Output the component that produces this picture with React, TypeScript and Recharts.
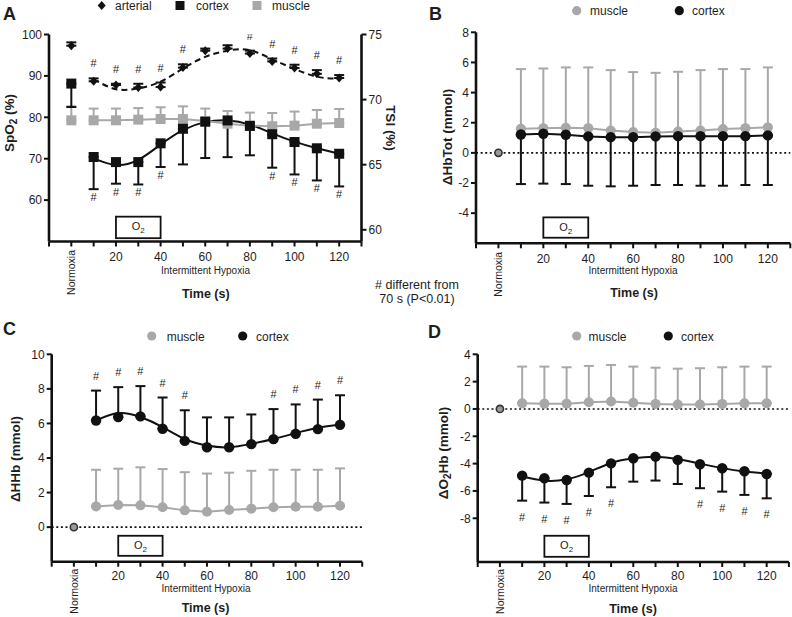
import React from 'react';
import { ComposedChart, Scatter, Line, XAxis, YAxis, ErrorBar, ReferenceArea, ReferenceLine } from 'recharts';

const FONT = "Arial, 'Liberation Sans', Helvetica, sans-serif";
const BLACK = '#111111';
const GRAY = '#a8a8a8';
const TEXT = '#1e1e1e';

// ---------- shared categories / ticks ----------
const TIMES = [10, 20, 30, 40, 50, 60, 70, 80, 90, 100, 110, 120];
const X_TICKS = [-10, 0, 10, 20, 30, 40, 50, 60, 70, 80, 90, 100, 110, 120, 130];
const NORMOXIA_T = 0;
const NORMOXIA_LABEL = 'Normoxia';
const PHASE_LABEL = 'Intermittent Hypoxia';
const TIME_LABEL = 'Time (s)';
const O2_START = 20;
const O2_END = 40;

// ---------- Panel A ----------
const A_LEFT_TICKS = [60, 70, 80, 90, 100];
const A_RIGHT_TICKS = [60, 65, 70, 75];
const A_ARTERIAL_MEAN = [88.7, 87.8, 87.2, 87.3, 92.0, 96.1, 96.6, 95.4, 93.5, 91.9, 90.5, 89.5];
const A_ARTERIAL_SD = [0.7, 0.3, 0.9, 1.1, 0.8, 0.5, 0.8, 0.7, 0.7, 0.8, 0.9, 0.7];
const A_ARTERIAL_FIT = [89.2, 86.8, 87.0, 88.6, 91.8, 94.6, 96.1, 96.2, 94.0, 91.7, 89.8, 89.3];
const A_ARTERIAL_NORMOXIA = 97.3;
const A_ARTERIAL_NORMOXIA_SD = 0.8;
const A_ARTERIAL_SIG = [1, 1, 1, 1, 1, 0, 0, 1, 1, 1, 1, 1];

const A_CORTEX_MEAN = [65.59, 65.2, 65.2, 66.64, 67.76, 68.3, 68.4, 67.98, 67.34, 66.74, 66.26, 65.84];
const A_CORTEX_SD = [2.47, 1.66, 1.72, 1.82, 2.74, 2.79, 2.82, 2.26, 2.57, 2.49, 2.47, 2.51];
const A_CORTEX_FIT = [65.49, 64.98, 65.37, 66.55, 67.66, 68.27, 68.4, 68.08, 67.41, 66.77, 66.26, 65.84];
const A_CORTEX_NORMOXIA = 71.23;
const A_CORTEX_NORMOXIA_SD = 1.8;
const A_CORTEX_SIG = [1, 1, 1, 1, 0, 0, 0, 0, 1, 1, 1, 1];

const A_MUSCLE_MEAN = [68.41, 68.41, 68.46, 68.51, 68.51, 68.35, 68.15, 68.0, 67.95, 68.0, 68.15, 68.2];
const A_MUSCLE_SD = [0.9, 0.9, 0.89, 0.9, 0.97, 0.96, 0.97, 1.0, 1.02, 1.08, 1.05, 1.08];
const A_MUSCLE_NORMOXIA = 68.41;
const A_MUSCLE_NORMOXIA_SD = 1.07;

// ---------- Panel B (ΔHbTot) ----------
const B_TICKS = [-4, -2, 0, 2, 4, 6, 8];
const B_MUSCLE_MEAN = [1.6, 1.64, 1.67, 1.64, 1.49, 1.38, 1.33, 1.42, 1.49, 1.58, 1.64, 1.69];
const B_MUSCLE_SD = [3.96, 3.96, 4.0, 4.03, 4.0, 3.98, 3.98, 3.96, 4.0, 3.98, 3.92, 3.98];
const B_CORTEX_MEAN = [1.22, 1.27, 1.2, 1.09, 1.04, 1.04, 1.09, 1.11, 1.11, 1.11, 1.11, 1.16];
const B_CORTEX_SD = [3.29, 3.31, 3.27, 3.27, 3.26, 3.22, 3.22, 3.24, 3.29, 3.29, 3.24, 3.29];
const B_NORMOXIA = 0;

// ---------- Panel C (ΔHHb) ----------
const C_TICKS = [0, 2, 4, 6, 8, 10];
const C_CORTEX_MEAN = [6.17, 6.37, 6.41, 5.69, 4.99, 4.62, 4.62, 4.8, 5.09, 5.4, 5.67, 5.92];
const C_CORTEX_SD = [1.73, 1.73, 1.75, 1.81, 1.77, 1.73, 1.73, 1.72, 1.74, 1.7, 1.71, 1.71];
const C_CORTEX_FIT = [6.17, 6.6, 6.37, 5.79, 5.1, 4.72, 4.62, 4.82, 5.1, 5.44, 5.75, 5.94];
const C_CORTEX_SIG = [1, 1, 1, 1, 1, 0, 0, 0, 1, 1, 1, 1];
const C_MUSCLE_MEAN = [1.2, 1.28, 1.26, 1.15, 0.97, 0.89, 0.99, 1.07, 1.15, 1.18, 1.18, 1.24];
const C_MUSCLE_SD = [2.12, 2.1, 2.2, 2.21, 2.21, 2.21, 2.16, 2.19, 2.17, 2.14, 2.14, 2.16];
const C_NORMOXIA = 0;

// ---------- Panel D (ΔO2Hb) ----------
const D_TICKS = [-8, -6, -4, -2, 0, 2, 4];
const D_MUSCLE_MEAN = [0.41, 0.39, 0.39, 0.49, 0.54, 0.46, 0.37, 0.32, 0.32, 0.37, 0.41, 0.41];
const D_MUSCLE_SD = [2.69, 2.71, 2.66, 2.66, 2.68, 2.64, 2.65, 2.63, 2.66, 2.68, 2.69, 2.69];
const D_CORTEX_MEAN = [-4.88, -5.07, -5.2, -4.66, -3.98, -3.61, -3.49, -3.73, -4.05, -4.34, -4.56, -4.76];
const D_CORTEX_SD = [1.83, 1.78, 1.75, 1.71, 1.75, 1.71, 1.75, 1.76, 1.75, 1.71, 1.73, 1.78];
const D_CORTEX_FIT = [-4.95, -5.25, -5.15, -4.62, -3.95, -3.6, -3.49, -3.66, -4.0, -4.33, -4.58, -4.72];
const D_CORTEX_SIG = [1, 1, 1, 1, 1, 0, 0, 0, 1, 1, 1, 1];
const D_NORMOXIA = 0;

// ---------- helpers ----------
type Dir = 'up' | 'down';
const errOf = (sd: number, dir: Dir) => (dir === 'up' ? [0, sd] : [sd, 0]);
const seriesRows = (mean: number[], sd: number[], dir: Dir) =>
  TIMES.map((t, i) => ({ t, v: mean[i], err: errOf(sd[i], dir) }));
const normRow = (mean: number, sd: number, dir: Dir) => [{ t: NORMOXIA_T, v: mean, err: errOf(sd, dir) }];
const fitRows = (fit: number[]) => TIMES.map((t, i) => ({ t, v: fit[i] }));
const hashRows = (mean: number[], sd: number[], sig: number[], dir: Dir) =>
  TIMES.flatMap((t, i) => (sig[i] ? [{ t, v: dir === 'up' ? mean[i] + sd[i] : mean[i] - sd[i] }] : []));

const squareShape = (fill: string, s = 10) => (p: any) =>
  <rect x={p.cx - s / 2} y={p.cy - s / 2} width={s} height={s} fill={fill} />;
const circleShape = (fill: string, r = 5) => (p: any) => <circle cx={p.cx} cy={p.cy} r={r} fill={fill} />;
const diamondShape = (fill: string) => (p: any) => (
  <polygon points={`${p.cx},${p.cy - 4.5} ${p.cx + 4},${p.cy} ${p.cx},${p.cy + 4.5} ${p.cx - 4},${p.cy}`} fill={fill} />
);
const normDotShape = (p: any) => <circle cx={p.cx} cy={p.cy} r={3.6} fill="#9a9a9a" stroke="#333" strokeWidth={1.6} />;
const hashShape = (dy: number) => (p: any) => (
  <text x={p.cx} y={p.cy + dy} textAnchor="middle" fontSize={11} fill={TEXT} fontFamily={FONT}>#</text>
);

const O2Box = (p: any) => {
  const { x, y, width, height } = p;
  return (
    <g>
      <rect x={x} y={y} width={width} height={height} fill="#fff" stroke={BLACK} strokeWidth={1.8} />
      <text x={x + width / 2} y={y + height / 2 + 3} textAnchor="middle" fontSize={11} fill={TEXT} fontFamily={FONT}>
        O<tspan fontSize={8} dy={3}>2</tspan>
      </text>
    </g>
  );
};

const makeXTick = (normDy: number, numDy: number) => (props: any) => {
  const { x, y, payload } = props;
  const v = payload?.value;
  if (v === NORMOXIA_T) {
    return (
      <text transform={`translate(${x + 4},${y + normDy}) rotate(-90)`} textAnchor="end" fontSize={10.5}
        fill={TEXT} fontFamily={FONT}>{NORMOXIA_LABEL}</text>
    );
  }
  if (v > 0 && v % 20 === 0) {
    return <text x={x} y={y + numDy} textAnchor="middle" fontSize={12} fill={TEXT} fontFamily={FONT}>{v}</text>;
  }
  return <g />;
};

const axisLine = { stroke: BLACK, strokeWidth: 2.6 };
const tickLine = { stroke: BLACK, strokeWidth: 2 };
const yTick = { fontSize: 12, fill: TEXT, fontFamily: FONT };

const xAxisProps = (height: number, normDy: number, numDy: number) => ({
  dataKey: 't',
  type: 'number' as const,
  domain: [-10, 130],
  ticks: X_TICKS,
  interval: 0 as const,
  allowDataOverflow: true,
  height,
  axisLine,
  tickLine,
  tickSize: 5,
  tick: makeXTick(normDy, numDy),
});

// ---------- panels ----------
function PanelA() {
  return (
    <ComposedChart width={400} height={310} margin={{ top: 34.5, right: 0, bottom: 0, left: 0 }}>
      <XAxis {...xAxisProps(68.5, 1.5, 12.3)} />
      <YAxis yAxisId="L" type="number" domain={[50, 100]} ticks={A_LEFT_TICKS} width={49} allowDataOverflow
        axisLine={axisLine} tickLine={tickLine} tickSize={5} tickMargin={2} tick={yTick} />
      <YAxis yAxisId="R" orientation="right" type="number" domain={[59.1, 75]} ticks={A_RIGHT_TICKS} width={38.5}
        allowDataOverflow axisLine={axisLine} tickLine={tickLine} tickSize={5} tickMargin={2} tick={yTick} />
      <ReferenceArea yAxisId="L" x1={O2_START} x2={O2_END} y1={50.8} y2={56.0} shape={O2Box} ifOverflow="visible" />

      {/* muscle */}
      <Scatter yAxisId="R" data={seriesRows(A_MUSCLE_MEAN, A_MUSCLE_SD, 'up')} dataKey="v" fill={GRAY}
        line={{ stroke: GRAY, strokeWidth: 2 }} shape={squareShape(GRAY)} isAnimationActive={false}>
        <ErrorBar dataKey="err" direction="y" width={5} stroke={GRAY} strokeWidth={2} />
      </Scatter>
      <Scatter yAxisId="R" data={normRow(A_MUSCLE_NORMOXIA, A_MUSCLE_NORMOXIA_SD, 'up')} dataKey="v" fill={GRAY}
        shape={squareShape(GRAY)} isAnimationActive={false}>
        <ErrorBar dataKey="err" direction="y" width={5} stroke={GRAY} strokeWidth={2} />
      </Scatter>

      {/* cortex */}
      <Line yAxisId="R" data={fitRows(A_CORTEX_FIT)} dataKey="v" type="natural" stroke={BLACK} strokeWidth={2}
        dot={false} activeDot={false} isAnimationActive={false} />
      <Scatter yAxisId="R" data={seriesRows(A_CORTEX_MEAN, A_CORTEX_SD, 'down')} dataKey="v" fill={BLACK}
        shape={squareShape(BLACK)} isAnimationActive={false}>
        <ErrorBar dataKey="err" direction="y" width={5} stroke={BLACK} strokeWidth={2} />
      </Scatter>
      <Scatter yAxisId="R" data={normRow(A_CORTEX_NORMOXIA, A_CORTEX_NORMOXIA_SD, 'down')} dataKey="v" fill={BLACK}
        shape={squareShape(BLACK)} isAnimationActive={false}>
        <ErrorBar dataKey="err" direction="y" width={5} stroke={BLACK} strokeWidth={2} />
      </Scatter>
      <Scatter yAxisId="R" data={hashRows(A_CORTEX_MEAN, A_CORTEX_SD, A_CORTEX_SIG, 'down')} dataKey="v"
        shape={hashShape(12)} isAnimationActive={false} />

      {/* arterial */}
      <Line yAxisId="L" data={fitRows(A_ARTERIAL_FIT)} dataKey="v" type="natural" stroke={BLACK} strokeWidth={2}
        strokeDasharray="6 4" dot={false} activeDot={false} isAnimationActive={false} />
      <Scatter yAxisId="L" data={seriesRows(A_ARTERIAL_MEAN, A_ARTERIAL_SD, 'up')} dataKey="v" fill={BLACK}
        shape={diamondShape(BLACK)} isAnimationActive={false}>
        <ErrorBar dataKey="err" direction="y" width={5} stroke={BLACK} strokeWidth={2} />
      </Scatter>
      <Scatter yAxisId="L" data={normRow(A_ARTERIAL_NORMOXIA, A_ARTERIAL_NORMOXIA_SD, 'up')} dataKey="v" fill={BLACK}
        shape={diamondShape(BLACK)} isAnimationActive={false}>
        <ErrorBar dataKey="err" direction="y" width={5} stroke={BLACK} strokeWidth={2} />
      </Scatter>
      <Scatter yAxisId="L" data={hashRows(A_ARTERIAL_MEAN, A_ARTERIAL_SD, A_ARTERIAL_SIG, 'up')} dataKey="v"
        shape={hashShape(-11)} isAnimationActive={false} />
    </ComposedChart>
  );
}

function DeltaPanel(props: {
  width: number; height: number; margin: any; xHeight: number; normDy: number; numDy: number;
  domain: number[]; ticks: number[]; yWidth: number; box: number[];
  muscleMean: number[]; muscleSd: number[]; muscleDir: Dir;
  cortexMean: number[]; cortexSd: number[]; cortexDir: Dir;
  cortexFit?: number[]; cortexSig?: number[]; hashDy?: number; normoxia: number;
}) {
  const p = props;
  return (
    <ComposedChart width={p.width} height={p.height} margin={p.margin}>
      <XAxis {...xAxisProps(p.xHeight, p.normDy, p.numDy)} />
      <YAxis type="number" domain={p.domain} ticks={p.ticks} width={p.yWidth} allowDataOverflow
        axisLine={axisLine} tickLine={tickLine} tickSize={5} tickMargin={2} tick={yTick} />
      <ReferenceLine y={0} stroke={BLACK} strokeWidth={1.6} strokeDasharray="2 2.6" ifOverflow="visible" />
      <ReferenceArea x1={O2_START} x2={O2_END} y1={p.box[0]} y2={p.box[1]} shape={O2Box} ifOverflow="visible" />

      <Scatter data={seriesRows(p.muscleMean, p.muscleSd, p.muscleDir)} dataKey="v" fill={GRAY}
        line={{ stroke: GRAY, strokeWidth: 2 }} shape={circleShape(GRAY, 5)} isAnimationActive={false}>
        <ErrorBar dataKey="err" direction="y" width={5} stroke={GRAY} strokeWidth={2} />
      </Scatter>

      {p.cortexFit ? (
        <Line data={fitRows(p.cortexFit)} dataKey="v" type="natural" stroke={BLACK} strokeWidth={2}
          dot={false} activeDot={false} isAnimationActive={false} />
      ) : null}
      <Scatter data={seriesRows(p.cortexMean, p.cortexSd, p.cortexDir)} dataKey="v" fill={BLACK}
        line={p.cortexFit ? false : { stroke: BLACK, strokeWidth: 2 }} shape={circleShape(BLACK, 5.2)}
        isAnimationActive={false}>
        <ErrorBar dataKey="err" direction="y" width={5} stroke={BLACK} strokeWidth={2} />
      </Scatter>
      {p.cortexSig ? (
        <Scatter data={hashRows(p.cortexMean, p.cortexSd, p.cortexSig, p.cortexDir)} dataKey="v"
          shape={hashShape(p.hashDy || 0)} isAnimationActive={false} />
      ) : null}
      <Scatter data={[{ t: NORMOXIA_T, v: p.normoxia }]} dataKey="v" shape={normDotShape} isAnimationActive={false} />
    </ComposedChart>
  );
}

function Overlay() {
  const t = { fontFamily: FONT, fill: TEXT } as const;
  const legendText = { ...t, fontSize: 12 };
  const yLab = { ...t, fontSize: 13.5, fontWeight: 700 as const, textAnchor: 'middle' as const };
  const small = { ...t, fontSize: 10, textAnchor: 'middle' as const };
  const timeLab = { ...t, fontSize: 12.5, fontWeight: 700 as const, textAnchor: 'middle' as const };
  const title = { ...t, fontSize: 18, fontWeight: 700 as const };
  return (
    <svg width={792} height={617} style={{ position: 'absolute', left: 0, top: 0, pointerEvents: 'none' }}>
      {/* titles */}
      <text x={3} y={20} {...title}>A</text>
      <text x={429} y={20} {...title}>B</text>
      <text x={3} y={335} {...title}>C</text>
      <text x={428} y={338} {...title}>D</text>

      {/* legend A */}
      <polygon points="101.7,1 105.7,5.5 101.7,10 97.7,5.5" fill={BLACK} />
      <text x={115} y={10} {...legendText}>arterial</text>
      <rect x={175.5} y={1} width={9} height={9} fill={BLACK} />
      <text x={196} y={10} {...legendText}>cortex</text>
      <rect x={252.5} y={1} width={9} height={9} fill={GRAY} />
      <text x={272} y={10} {...legendText}>muscle</text>

      {/* legend B */}
      <circle cx={576.7} cy={10.7} r={4.6} fill={GRAY} />
      <text x={590} y={15} {...legendText}>muscle</text>
      <circle cx={679.3} cy={10.7} r={4.6} fill={BLACK} />
      <text x={692} y={15} {...legendText}>cortex</text>

      {/* legend C */}
      <circle cx={151.7} cy={336} r={4.6} fill={GRAY} />
      <text x={166.7} y={340.5} {...legendText}>muscle</text>
      <circle cx={242.7} cy={336} r={4.6} fill={BLACK} />
      <text x={256} y={340.5} {...legendText}>cortex</text>

      {/* legend D */}
      <circle cx={576.7} cy={336} r={4.6} fill={GRAY} />
      <text x={588.5} y={340.5} {...legendText}>muscle</text>
      <circle cx={668.3} cy={336} r={4.6} fill={BLACK} />
      <text x={681} y={340.5} {...legendText}>cortex</text>

      {/* y axis titles */}
      <text transform="translate(14,123) rotate(-90)" {...yLab}>
        SpO<tspan fontSize={10} dy={3}>2</tspan><tspan dy={-3}> (%)</tspan>
      </text>
      <text transform="translate(386,128) rotate(90)" {...yLab}>TSI (%)</text>
      <text transform="translate(451.5,137) rotate(-90)" {...yLab}>ΔHbTot (mmol)</text>
      <text transform="translate(20,459) rotate(-90)" {...yLab}>ΔHHb (mmol)</text>
      <text transform="translate(448,453) rotate(-90)" {...yLab}>
        ΔO<tspan fontSize={10} dy={3}>2</tspan><tspan dy={-3}>Hb (mmol)</tspan>
      </text>

      {/* x sub labels */}
      <text x={205.5} y={274} {...small}>{PHASE_LABEL}</text>
      <text x={633} y={274} {...small}>{PHASE_LABEL}</text>
      <text x={206} y={591.5} {...small}>{PHASE_LABEL}</text>
      <text x={633} y={591.5} {...small}>{PHASE_LABEL}</text>
      <text x={205.8} y={297.5} {...timeLab}>{TIME_LABEL}</text>
      <text x={634} y={297} {...timeLab}>{TIME_LABEL}</text>
      <text x={205.5} y={612} {...timeLab}>{TIME_LABEL}</text>
      <text x={633} y={613} {...timeLab}>{TIME_LABEL}</text>

      {/* significance note */}
      <text x={417} y={288.5} textAnchor="middle" {...t} fontSize={12.5}># different from</text>
      <text x={417} y={302.5} textAnchor="middle" {...t} fontSize={12.5}>70 s (P&lt;0.01)</text>
    </svg>
  );
}

export default function App() {
  return (
    <div style={{ position: 'absolute', left: 0, top: 0, width: 792, height: 617, background: '#fff', overflow: 'hidden' }}>
      <div style={{ position: 'absolute', left: 0, top: 0 }}>
        <PanelA />
      </div>
      <div style={{ position: 'absolute', left: 400, top: 0 }}>
        <DeltaPanel width={392} height={310} margin={{ top: 32.3, right: 1.7, bottom: 0, left: 0 }}
          xHeight={66.7} normDy={1.5} numDy={12.3} domain={[-6, 8]} ticks={B_TICKS} yWidth={76}
          box={[-5.63, -4.28]} muscleMean={B_MUSCLE_MEAN} muscleSd={B_MUSCLE_SD} muscleDir="up"
          cortexMean={B_CORTEX_MEAN} cortexSd={B_CORTEX_SD} cortexDir="down" normoxia={B_NORMOXIA} />
      </div>
      <div style={{ position: 'absolute', left: 0, top: 310 }}>
        <DeltaPanel width={400} height={307} margin={{ top: 44.3, right: 37.8, bottom: 0, left: 0 }}
          xHeight={55.3} normDy={0} numDy={11} domain={[-2, 10]} ticks={C_TICKS} yWidth={51.7}
          box={[-1.66, -0.5]} muscleMean={C_MUSCLE_MEAN} muscleSd={C_MUSCLE_SD} muscleDir="up"
          cortexMean={C_CORTEX_MEAN} cortexSd={C_CORTEX_SD} cortexDir="up" cortexFit={C_CORTEX_FIT}
          cortexSig={C_CORTEX_SIG} hashDy={-11} normoxia={C_NORMOXIA} />
      </div>
      <div style={{ position: 'absolute', left: 400, top: 310 }}>
        <DeltaPanel width={392} height={307} margin={{ top: 44.3, right: 3.1, bottom: 0, left: 0 }}
          xHeight={55} normDy={0} numDy={11} domain={[-11.2, 4]} ticks={D_TICKS} yWidth={77.7}
          box={[-10.82, -9.28]} muscleMean={D_MUSCLE_MEAN} muscleSd={D_MUSCLE_SD} muscleDir="up"
          cortexMean={D_CORTEX_MEAN} cortexSd={D_CORTEX_SD} cortexDir="down" cortexFit={D_CORTEX_FIT}
          cortexSig={D_CORTEX_SIG} hashDy={20} normoxia={D_NORMOXIA} />
      </div>
      <Overlay />
    </div>
  );
}
